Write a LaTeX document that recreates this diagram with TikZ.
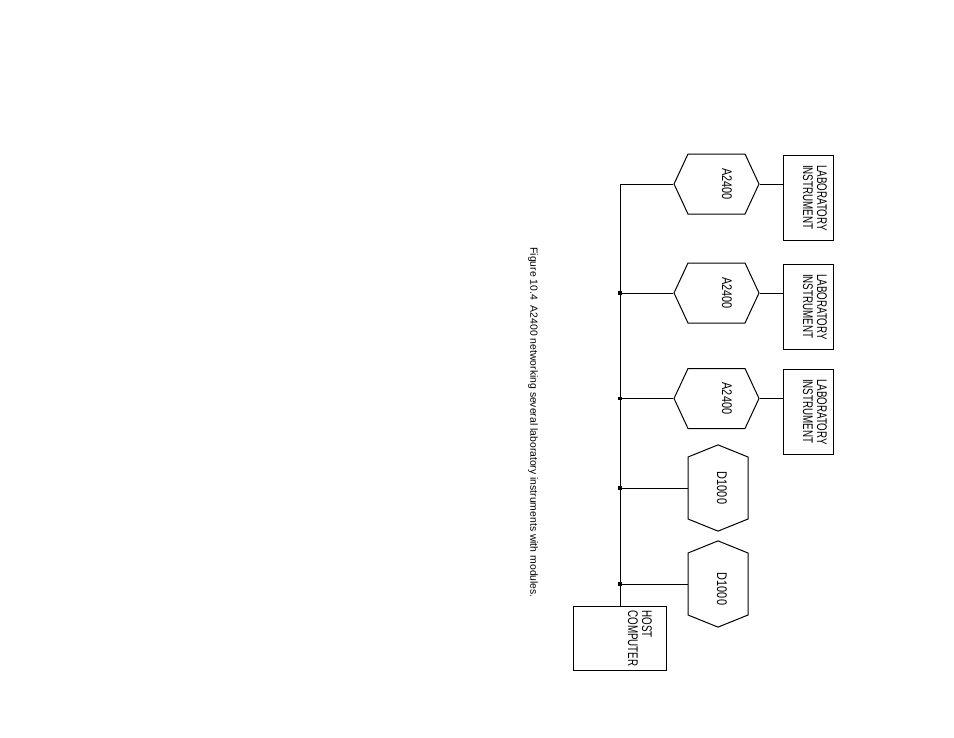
\documentclass[tikz,border=0pt]{standalone}
\usepackage{fontspec}
\usetikzlibrary{shapes.symbols, positioning}
\newfontfamily\labfont[FakeStretch=0.7]{Liberation Sans}
\newfontfamily\hexfont[FakeStretch=0.78]{Liberation Sans}
\newfontfamily\capfont{Liberation Sans}

\begin{document}
\begin{tikzpicture}[
    x=1bp, y=-1bp, line width=1bp,
    hexa/.style={signal, signal to=west and east, signal pointer angle=130, draw, minimum width=85bp, minimum height=60bp, inner sep=0pt},
    hexd/.style={signal, signal to=north and south, signal pointer angle=136, draw, minimum width=60bp, minimum height=62bp, inner sep=0pt},
    unit/.style={rectangle, draw, minimum width=#1, minimum height=85bp, inner sep=0pt},
    tag/.style={rotate=-90, inner sep=0pt, font=\hexfont\fontsize{14bp}{14bp}\selectfont},
    boxtext/.style={rotate=-90, inner sep=0pt, align=left, font=\labfont\fontsize{14bp}{14bp}\selectfont},
    joint/.style={rectangle, fill, inner sep=0pt, minimum size=3.5bp}
]
\useasboundingbox (0,0) rectangle (954,738);

% Host computer
\node[unit=93bp, minimum height=64bp] (host) at (620,638) {};
\node[boxtext] (hostt) at (640,638.5) {HOST\\COMPUTER};

% A2400 modules
\node[hexa] (a1) at (716.5,184) {};
\node[hexa] (a2) at (716.5,293) {};
\node[hexa] (a3) at (716.5,398.5) {};
\node[tag] (a1t) at (727,184) {A2400};
\node[tag] (a2t) at (727,293) {A2400};
\node[tag] (a3t) at (727,398.5) {A2400};

% D1000 modules
\node[hexd] (d1) at (718,488) {};
\node[hexd] (d2) at (718,584) {};
\node[tag] (d1t) at (722,488) {D1000};
\node[tag] (d2t) at (722,589) {D1000};

% Laboratory instruments
\node[unit=50bp] (lab1) at (808,197.5) {};
\node[unit=50bp] (lab2) at (808,306.5) {};
\node[unit=50bp] (lab3) at (808,411.5) {};
\node[boxtext] (lab1t) at (815,198) {LABORATORY\\INSTRUMENT};
\node[boxtext] (lab2t) at (815,307) {LABORATORY\\INSTRUMENT};
\node[boxtext] (lab3t) at (815,412) {LABORATORY\\INSTRUMENT};

% Network bus
\draw (a1.west) -| (host.north);
\draw (a2.west) -- (a2.west -| host.north) node[joint] (j2) {};
\draw (a3.west) -- (a3.west -| host.north) node[joint] (j3) {};
\draw (d1.west) -- (d1.west -| host.north) node[joint] (j4) {};
\draw (d2.west) -- (d2.west -| host.north) node[joint] (j5) {};

% Module to instrument links
\draw (a1.east) -- (a1.east -| lab1.west);
\draw (a2.east) -- (a2.east -| lab2.west);
\draw (a3.east) -- (a3.east -| lab3.west);

% Caption
\node[rotate=-90, anchor=west, inner sep=0pt, font=\capfont\fontsize{10.4bp}{12bp}\selectfont] (cap) at (533,247) {Figure 10.4\ \ A2400 networking several laboratory instruments with modules.};

\end{tikzpicture}
\end{document}
